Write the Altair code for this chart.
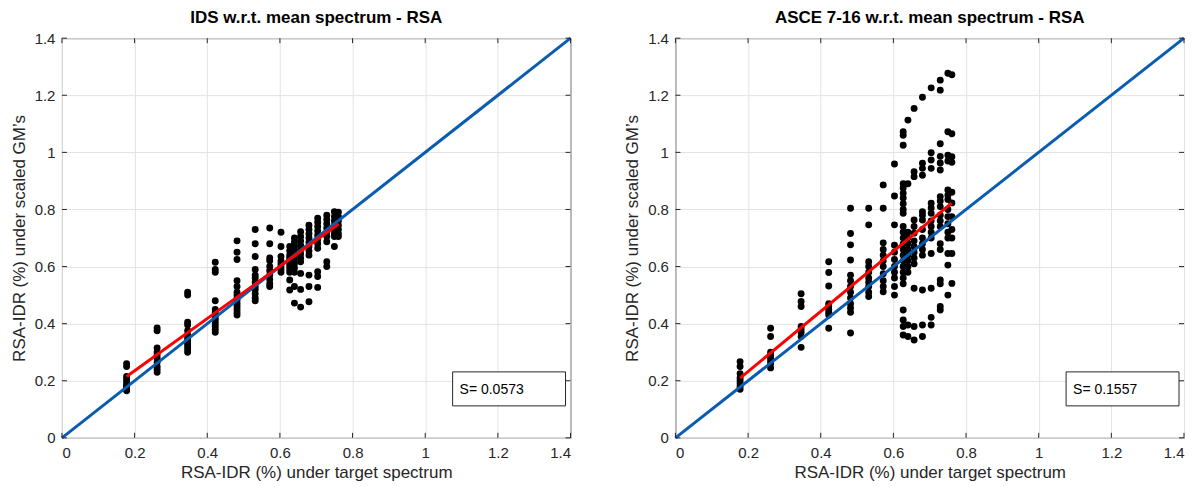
import altair as alt
import pandas as pd

# ---------------- data ----------------
COL_X = [0.178, 0.262, 0.346, 0.422, 0.482, 0.532, 0.572, 0.603,
         0.627, 0.640, 0.657, 0.680, 0.704, 0.729, 0.750, 0.761]

IDS_Y = [
    [0.26, 0.25, 0.215, 0.205, 0.195, 0.185, 0.18, 0.175, 0.17, 0.165],
    [0.385, 0.375, 0.315, 0.30, 0.29, 0.28, 0.265, 0.25, 0.24, 0.23],
    [0.51, 0.50, 0.405, 0.395, 0.375, 0.36, 0.35, 0.34, 0.33, 0.32, 0.31, 0.30],
    [0.615, 0.59, 0.58, 0.48, 0.45, 0.44, 0.43, 0.42, 0.41, 0.40, 0.39, 0.38, 0.37],
    [0.69, 0.65, 0.625, 0.55, 0.53, 0.51, 0.50, 0.49, 0.48, 0.47, 0.46, 0.45, 0.44, 0.43],
    [0.73, 0.68, 0.635, 0.59, 0.57, 0.56, 0.545, 0.53, 0.52, 0.505, 0.49, 0.48],
    [0.735, 0.68, 0.63, 0.62, 0.60, 0.585, 0.57, 0.555, 0.54, 0.53],
    [0.72, 0.67, 0.635, 0.62, 0.61, 0.60, 0.59, 0.58],
    [0.67, 0.655, 0.64, 0.63, 0.62, 0.61, 0.60, 0.59, 0.58, 0.553, 0.518],
    [0.70, 0.685, 0.67, 0.655, 0.64, 0.625, 0.61, 0.595, 0.58, 0.53, 0.472],
    [0.722, 0.705, 0.69, 0.675, 0.66, 0.645, 0.63, 0.617, 0.576, 0.52, 0.458],
    [0.745, 0.73, 0.715, 0.70, 0.685, 0.67, 0.655, 0.64, 0.57, 0.53, 0.477],
    [0.769, 0.755, 0.74, 0.725, 0.71, 0.695, 0.68, 0.664, 0.582, 0.565, 0.527],
    [0.78, 0.765, 0.75, 0.735, 0.72, 0.705, 0.687, 0.617, 0.60],
    [0.792, 0.775, 0.76, 0.745, 0.73, 0.715, 0.705, 0.67],
    [0.79, 0.775, 0.76, 0.745, 0.73, 0.715, 0.705],
]

ASCE_Y = [
    [0.267, 0.25, 0.225, 0.21, 0.20, 0.19, 0.18, 0.17],
    [0.384, 0.355, 0.30, 0.29, 0.28, 0.27, 0.26, 0.245],
    [0.505, 0.478, 0.46, 0.39, 0.38, 0.37, 0.355, 0.317],
    [0.617, 0.579, 0.532, 0.47, 0.46, 0.45, 0.44, 0.43, 0.384],
    [0.804, 0.716, 0.676, 0.623, 0.57, 0.55, 0.53, 0.51, 0.49, 0.47, 0.455, 0.44, 0.367],
    [0.804, 0.746, 0.617, 0.60, 0.58, 0.56, 0.545, 0.53, 0.51, 0.495],
    [0.886, 0.804, 0.683, 0.66, 0.64, 0.62, 0.60, 0.575, 0.55, 0.53, 0.512],
    [0.959, 0.847, 0.746, 0.675, 0.65, 0.625, 0.60, 0.58, 0.56, 0.53, 0.50],
    [1.072, 1.06, 1.025, 0.89, 0.875, 0.857, 0.84, 0.82, 0.80, 0.787, 0.74, 0.72,
     0.70, 0.68, 0.66, 0.64, 0.62, 0.60, 0.58, 0.56, 0.54, 0.448, 0.413, 0.39, 0.36],
    [1.113, 0.89, 0.72, 0.70, 0.68, 0.66, 0.64, 0.62, 0.60, 0.58, 0.395, 0.355],
    [1.154, 0.932, 0.915, 0.763, 0.74, 0.717, 0.69, 0.67, 0.65, 0.63, 0.61, 0.524, 0.39, 0.343],
    [1.193, 0.962, 0.944, 0.92, 0.792, 0.78, 0.763, 0.73, 0.70, 0.68, 0.66, 0.64, 0.518, 0.395, 0.355],
    [1.226, 0.999, 0.973, 0.944, 0.822, 0.805, 0.787, 0.76, 0.74, 0.72, 0.70, 0.646, 0.524, 0.422, 0.395],
    [1.253, 1.218, 1.03, 0.986, 0.963, 0.938, 0.845, 0.83, 0.81, 0.78, 0.76, 0.74, 0.68, 0.66,
     0.553, 0.54, 0.46, 0.448],
    [1.277, 1.072, 0.99, 0.97, 0.868, 0.85, 0.835, 0.80, 0.775, 0.75, 0.72, 0.70, 0.646, 0.605, 0.50],
    [1.272, 1.065, 0.985, 0.965, 0.86, 0.823, 0.775, 0.73, 0.70, 0.646, 0.541],
]

# regression-line end points and diagonal
IDS_FIT_X = [0.178, 0.762]
IDS_FIT_Y = [0.215, 0.749]
ASCE_FIT_X = [0.178, 0.760]
ASCE_FIT_Y = [0.209, 0.822]
DIAG = [0.0, 1.4]
TICKS = [0.0, 0.2, 0.4, 0.6, 0.8, 1.0, 1.2, 1.4]

TITLES = ["IDS w.r.t. mean spectrum - RSA", "ASCE 7-16 w.r.t. mean spectrum - RSA"]
S_TEXT = ["S= 0.0573", "S= 0.1557"]
X_TITLE = "RSA-IDR (%) under target spectrum"
Y_TITLE = "RSA-IDR (%) under scaled GM\u2019s"

W, H = 509, 400
FONT = "Liberation Sans"
BLUE = "#0a5cb0"
TXT = "#262626"


def panel(cols, fit_x, fit_y, title, s_text):
    rows = []
    for x, ys in zip(COL_X, cols):
        for y in ys:
            rows.append({"x": x, "y": y})
    df = pd.DataFrame(rows)
    sx = alt.Scale(domain=[0, 1.4], nice=False, zero=False)
    sy = alt.Scale(domain=[0, 1.4], nice=False, zero=False)
    xax = alt.Axis(values=TICKS, format="~g", title=X_TITLE, grid=True, ticks=False,
                   domain=False, labelPadding=8, titlePadding=4)
    yax = alt.Axis(values=TICKS, format="~g", title=Y_TITLE, grid=True, ticks=False,
                   domain=False, labelPadding=7, titlePadding=6)

    pts = alt.Chart(df).mark_circle(size=48, color="black", opacity=1).encode(
        x=alt.X("x:Q", scale=sx, axis=xax),
        y=alt.Y("y:Q", scale=sy, axis=yax),
    )
    diag = alt.Chart(pd.DataFrame({"x": DIAG, "y": DIAG})).mark_line(
        color=BLUE, strokeWidth=3).encode(x=alt.X("x:Q", scale=sx), y=alt.Y("y:Q", scale=sy))
    fit = alt.Chart(pd.DataFrame({"x": fit_x, "y": fit_y})).mark_line(
        color="#ff0000", strokeWidth=3).encode(x=alt.X("x:Q", scale=sx), y=alt.Y("y:Q", scale=sy))

    tdf = pd.DataFrame({"t": TICKS})
    tk_b = alt.Chart(tdf).mark_rule(color=TXT, strokeWidth=1).encode(
        x=alt.X("t:Q", scale=sx), y=alt.value(H), y2=alt.value(H - 5))
    tk_t = alt.Chart(tdf).mark_rule(color=TXT, strokeWidth=1).encode(
        x=alt.X("t:Q", scale=sx), y=alt.value(0), y2=alt.value(5))
    tk_l = alt.Chart(tdf).mark_rule(color=TXT, strokeWidth=1).encode(
        y=alt.Y("t:Q", scale=sy), x=alt.value(0), x2=alt.value(5))
    tk_r = alt.Chart(tdf).mark_rule(color=TXT, strokeWidth=1).encode(
        y=alt.Y("t:Q", scale=sy), x=alt.value(W - 5), x2=alt.value(W))

    box = alt.Chart(pd.DataFrame({"s": [s_text]})).mark_rect(
        fill="white", stroke=TXT, strokeWidth=1).encode(
        x=alt.value(391), x2=alt.value(504), y=alt.value(334), y2=alt.value(368))
    txt = alt.Chart(pd.DataFrame({"s": [s_text]})).mark_text(
        align="left", baseline="middle", font=FONT, fontSize=14, color="black").encode(
        x=alt.value(398), y=alt.value(352), text="s:N")

    return alt.layer(pts, diag, fit, tk_b, tk_t, tk_l, tk_r, box, txt).properties(
        width=W, height=H,
        title=alt.TitleParams(title, font=FONT, fontSize=17, fontWeight="bold",
                              color="black", offset=4, anchor="middle"),
    )


left = panel(IDS_Y, IDS_FIT_X, IDS_FIT_Y, TITLES[0], S_TEXT[0])
right = panel(ASCE_Y, ASCE_FIT_X, ASCE_FIT_Y, TITLES[1], S_TEXT[1])

chart = alt.hconcat(left, right, spacing=45).properties(
    padding={"left": 9, "top": 8, "right": 2, "bottom": 0},
    background="white",
).configure_view(stroke=TXT, strokeWidth=1).configure_axis(
    labelFont=FONT, labelFontSize=15, labelColor=TXT,
    titleFont=FONT, titleFontSize=17, titleFontWeight="normal", titleColor=TXT,
    gridColor="#e3e3e3", gridWidth=1,
)

chart.save("out.html", embed_options={"renderer": "svg", "actions": False})
